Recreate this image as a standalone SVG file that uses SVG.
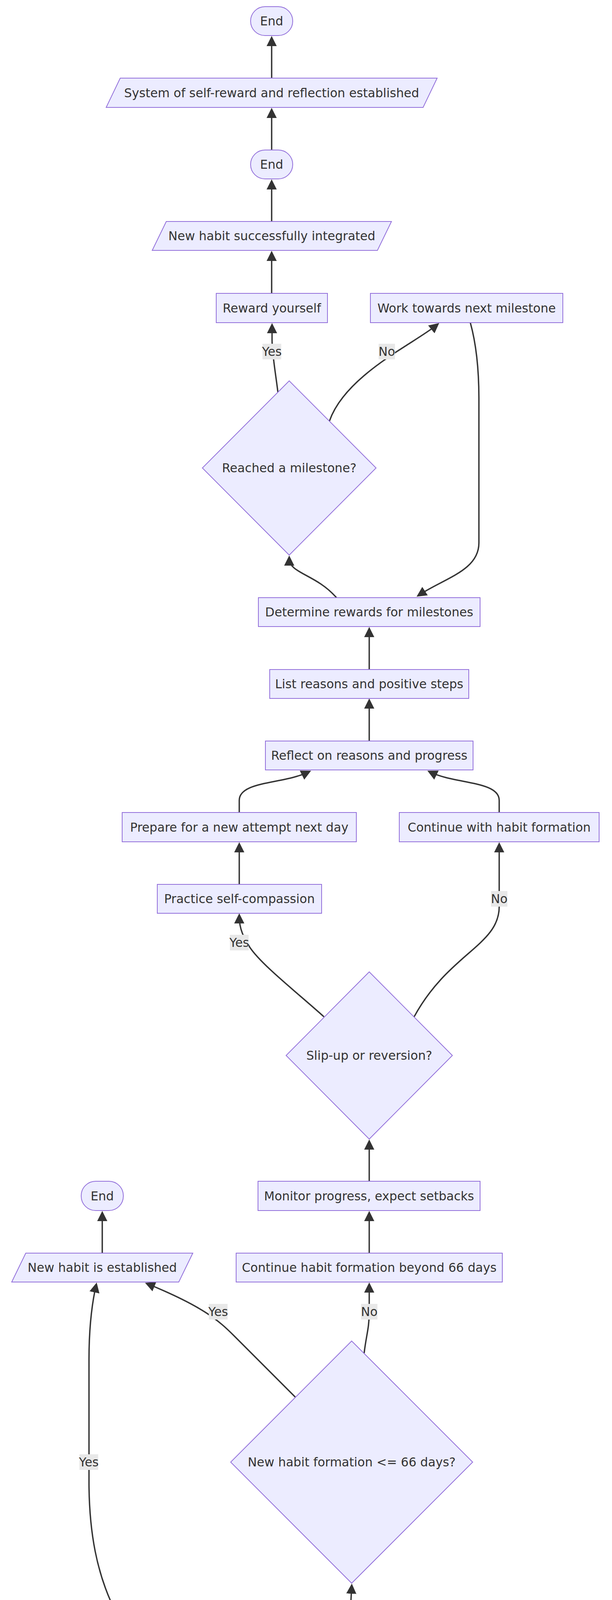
<svg xmlns="http://www.w3.org/2000/svg" width="1568" height="6986" viewBox="0 0 1568 6986">
<style>
.n{fill:#ECECFF;stroke:#9370DB;stroke-width:2}
.t{font-family:"DejaVu Sans",Verdana,sans-serif;font-size:31.3px;fill:#333;text-anchor:middle;dominant-baseline:central}
.e{fill:none;stroke:#333;stroke-width:3.5}
.lb{fill:#e8e8e8}
</style>
<defs>
<marker id="ah" viewBox="0 0 10 10" refX="6.9" refY="5" markerWidth="26" markerHeight="26" markerUnits="userSpaceOnUse" orient="auto"><path d="M0,0 L10,5 L0,10 z" fill="#333"/></marker>
</defs>
<rect width="1568" height="6986" fill="#fff"/>
<g id="connectors">
<path class="e" marker-end="url(#ah)" d="M696,200 L696,100"/>
<path class="e" marker-end="url(#ah)" d="M696,384 L696,284"/>
<path class="e" marker-end="url(#ah)" d="M696,567 L696,467"/>
<path class="e" marker-end="url(#ah)" d="M696,751 L696,650"/>
<path class="e" marker-end="url(#ah)" d="M712,1004 C706,955 697,905 697,870 L697,835"/>
<path class="e" marker-end="url(#ah)" d="M844,1078 C885,960 1060,880 1119,832"/>
<path class="e" marker-end="url(#ah)" d="M1205,826 C1220,880 1227,940 1227,1020 L1227,1390 C1227,1460 1140,1480 1074,1523"/>
<path class="e" marker-end="url(#ah)" d="M862,1530 C810,1470 741,1468 741,1430"/>
<path class="e" marker-end="url(#ah)" d="M946,1714 L946,1613"/>
<path class="e" marker-end="url(#ah)" d="M946,1897 L946,1796"/>
<path class="e" marker-end="url(#ah)" d="M613,2080 L613,2049 C613,1999 726.8,2007.3 789.8,1976.5"/>
<path class="e" marker-end="url(#ah)" d="M1279,2080 L1279,2049 C1279,1999 1165.2,2007.3 1102.2,1976.5"/>
<path class="e" marker-end="url(#ah)" d="M613,2264 L613,2164"/>
<path class="e" marker-end="url(#ah)" d="M830,2603 C760,2540 670,2470 640,2425 C625,2400 613,2380 613,2346"/>
<path class="e" marker-end="url(#ah)" d="M1061,2603 C1150,2440 1279,2420 1279,2321 L1279,2164"/>
<path class="e" marker-end="url(#ah)" d="M946,3024 L946,2925"/>
<path class="e" marker-end="url(#ah)" d="M946,3208 L946,3108"/>
<path class="e" marker-end="url(#ah)" d="M262,3208 L262,3108"/>
<path class="e" marker-end="url(#ah)" d="M757,3577 L600,3420 C560,3380 520,3345 379,3287"/>
<path class="e" marker-end="url(#ah)" d="M933,3464 C938,3420 946,3400 946,3360 L946,3291"/>
<path class="e" marker-end="url(#ah)" d="M455,4353 C340,4200 230,4100 228,3800 L228,3480 C228,3400 235,3340 246,3291"/>
<path class="e" marker-end="url(#ah)" d="M737,4337 C800,4220 885,4160 899,4100 L901,4062"/>
<path class="e" marker-end="url(#ah)" d="M604,4913 L604,4814"/>
<path class="e" marker-end="url(#ah)" d="M604,5098 L604,4997"/>
<path class="e" marker-end="url(#ah)" d="M284,5281 L284,5250 C284,5200 397.8,5208.3 460.8,5177.5"/>
<path class="e" marker-end="url(#ah)" d="M924,5281 L924,5250 C924,5200 810.2,5208.3 747.2,5177.5"/>
<path class="e" marker-end="url(#ah)" d="M459,5650 L352,5512 C312,5460 284,5410 284,5364"/>
<path class="e" marker-end="url(#ah)" d="M749,5650 L856,5512 C896,5460 924,5410 924,5364"/>
<path class="e" marker-end="url(#ah)" d="M604,6271 L604,6171"/>
<path class="e" marker-end="url(#ah)" d="M604,6454 L604,6355"/>
<path class="e" marker-end="url(#ah)" d="M604,6637 L604,6537"/>
<path class="e" marker-end="url(#ah)" d="M604,6821 L604,6721"/>
</g>
<g id="edge-labels">
<g><rect class="lb" x="672.5" y="880" width="48" height="40"/><text class="t" x="696.5" y="900">Yes</text></g>
<g><rect class="lb" x="970" y="880" width="42" height="40"/><text class="t" x="991" y="900">No</text></g>
<g><rect class="lb" x="589" y="2393" width="48" height="40"/><text class="t" x="613" y="2413">Yes</text></g>
<g><rect class="lb" x="1258" y="2281" width="42" height="40"/><text class="t" x="1279" y="2301">No</text></g>
<g><rect class="lb" x="535" y="3338" width="48" height="40"/><text class="t" x="559" y="3358">Yes</text></g>
<g><rect class="lb" x="925" y="3338" width="42" height="40"/><text class="t" x="946" y="3358">No</text></g>
<g><rect class="lb" x="203.5" y="3723" width="48" height="40"/><text class="t" x="227.5" y="3743">Yes</text></g>
<g><rect class="lb" x="880" y="4108" width="42" height="40"/><text class="t" x="901" y="4128">No</text></g>
<g><rect class="lb" x="259.5" y="5410" width="48" height="40"/><text class="t" x="283.5" y="5430">Yes</text></g>
<g><rect class="lb" x="903.5" y="5410" width="42" height="40"/><text class="t" x="924.5" y="5430">No</text></g>
</g>
<g id="end1"><rect class="n" x="642" y="17" width="108" height="74" rx="37" ry="37"/><text class="t" x="696" y="54">End</text></g>
<g id="selfRewardSystem"><polygon class="n" points="308,200 1120,200 1084,275 272,275"/><text class="t" x="696" y="237.5">System of self-reward and reflection established</text></g>
<g id="end2"><rect class="n" x="642" y="384" width="108" height="74" rx="37" ry="37"/><text class="t" x="696" y="421">End</text></g>
<g id="habitIntegrated"><polygon class="n" points="426,567 1003,567 967,641 390,641"/><text class="t" x="696.5" y="604">New habit successfully integrated</text></g>
<g id="rewardYourself"><rect class="n" x="554" y="751" width="285" height="75"/><text class="t" x="696.5" y="788.5">Reward yourself</text></g>
<g id="workNext"><rect class="n" x="949" y="751" width="493" height="75"/><text class="t" x="1195.5" y="788.5">Work towards next milestone</text></g>
<g id="milestone"><polygon class="n" points="741,975 963.5,1198 741,1421 518.5,1198"/><text class="t" x="741" y="1198">Reached a milestone?</text></g>
<g id="determineRewards"><rect class="n" x="662" y="1530" width="568" height="74"/><text class="t" x="946" y="1567">Determine rewards for milestones</text></g>
<g id="listReasons"><rect class="n" x="691" y="1714" width="510" height="74"/><text class="t" x="946" y="1751">List reasons and positive steps</text></g>
<g id="reflect"><rect class="n" x="680" y="1897" width="532" height="74"/><text class="t" x="946" y="1934">Reflect on reasons and progress</text></g>
<g id="prepare"><rect class="n" x="313" y="2080" width="600" height="75"/><text class="t" x="613" y="2117.5">Prepare for a new attempt next day</text></g>
<g id="continueHabit"><rect class="n" x="1023" y="2080" width="512" height="75"/><text class="t" x="1279" y="2117.5">Continue with habit formation</text></g>
<g id="selfCompassion"><rect class="n" x="403" y="2264" width="421" height="74"/><text class="t" x="613.5" y="2301">Practice self-compassion</text></g>
<g id="slipUp"><polygon class="n" points="946,2488 1159,2702 946,2916 733,2702"/><text class="t" x="946" y="2702">Slip-up or reversion?</text></g>
<g id="monitor"><rect class="n" x="661" y="3024" width="569" height="75"/><text class="t" x="945.5" y="3061.5">Monitor progress, expect setbacks</text></g>
<g id="end3"><rect class="n" x="208" y="3024" width="108" height="75" rx="37" ry="37"/><text class="t" x="262" y="3061.5">End</text></g>
<g id="habitEstablished"><polygon class="n" points="66,3208 494,3208 458,3282 30,3282"/><text class="t" x="262" y="3245">New habit is established</text></g>
<g id="beyond66"><rect class="n" x="605" y="3208" width="682" height="74"/><text class="t" x="946" y="3245">Continue habit formation beyond 66 days</text></g>
<g id="within66"><polygon class="n" points="901,3433 1211,3743 901,4053 591,3743"/><text class="t" x="901" y="3743">New habit formation &lt;= 66 days?</text></g>
<g id="within21"><polygon class="n" points="604,4203 905,4504 604,4805 303,4504"/><text class="t" x="604" y="4504">New habit formation &lt; 21 days?</text></g>
<g id="acknowledge"><rect class="n" x="352" y="4913" width="504" height="75"/><text class="t" x="604" y="4950.5">Acknowledge personal factors</text></g>
<g id="understand"><rect class="n" x="288" y="5098" width="632" height="74"/><text class="t" x="604" y="5135">Understand habit formation is gradual</text></g>
<g id="linkHabit"><rect class="n" x="18" y="5281" width="531" height="74"/><text class="t" x="283.5" y="5318">Link new habit to existing habit</text></g>
<g id="findTrigger"><rect class="n" x="660" y="5281" width="528" height="74"/><text class="t" x="924" y="5318">Find regular behavior as trigger</text></g>
<g id="existingAligns"><polygon class="n" points="604,5505 932.5,5834 604,6163 275.5,5834"/><text class="t" x="604" y="5834">Existing habit aligns with new one?</text></g>
<g id="chooseHabit"><rect class="n" x="328" y="6271" width="552" height="75"/><text class="t" x="604" y="6308.5">Choose the new habit to develop</text></g>
<g id="selectHabit"><rect class="n" x="268" y="6454" width="672" height="74"/><text class="t" x="604" y="6491">Select a habit to be performed regularly</text></g>
<g id="identifyNeed"><rect class="n" x="259" y="6637" width="690" height="75"/><text class="t" x="604" y="6674.5">Identify the need for forming a new habit</text></g>
<g id="start"><rect class="n" x="540" y="6821" width="128" height="75" rx="37" ry="37"/><text class="t" x="604" y="6858.5">Start</text></g>
</svg>
